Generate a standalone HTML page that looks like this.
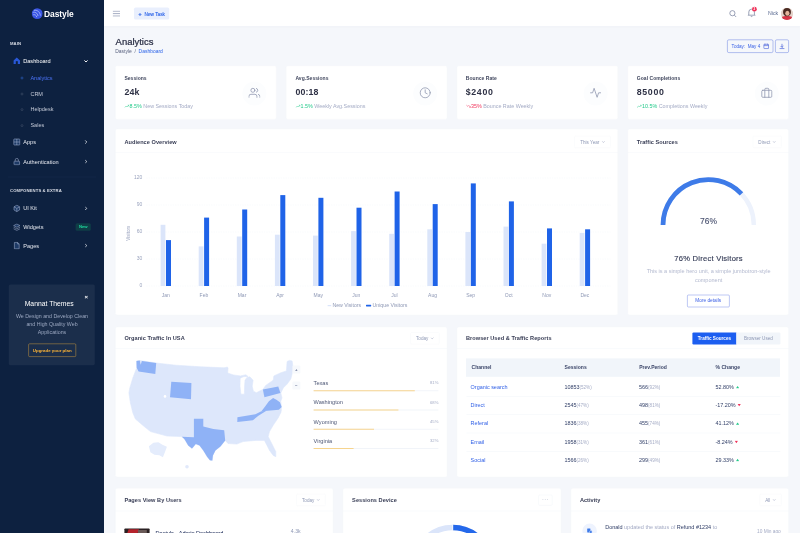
<!DOCTYPE html>
<html lang="en">
<head>
<meta charset="utf-8">
<title>Dastyle - Admin Dashboard</title>
<style>
*{box-sizing:border-box;margin:0;padding:0}
html,body{width:800px;height:533px;overflow:hidden;background:#f5f7fb}
body{font-family:"Liberation Sans",sans-serif;color:#303e67}
#app{position:absolute;left:0;top:0;width:2000px;height:1333px;transform:scale(.4);transform-origin:0 0;background:#f5f7fb;font-size:13px;overflow:hidden}
.abs{position:absolute}
/* sidebar */
#side{position:absolute;left:0;top:0;width:260px;height:1333px;background:#0d2140}
#side .lbl{position:absolute;left:25px;font-size:10.5px;font-weight:700;letter-spacing:.3px;color:#d9dde6;text-transform:uppercase;line-height:14px}
#side .it{position:absolute;left:58px;font-size:14px;color:#e4e7ee;line-height:18px;font-weight:400}
#side .sub{position:absolute;left:76px;font-size:13.8px;color:#c3c9d6;line-height:18px}
#side .sub.act{color:#4a72f5}
#side .dot{position:absolute;left:52px;width:6px;height:6px;border-radius:50%;border:1px solid #55627a}
#side .ic{position:absolute;left:32px;width:20px;height:20px}
#side .chev{position:absolute;left:210px;width:10px;height:10px}
/* topbar */
#top{position:absolute;left:260px;top:0;width:1740px;height:66px;background:#fff;border-bottom:1px solid #eef2f7;box-shadow:0 1px 3px rgba(40,60,100,.04)}
.card{position:absolute;background:#fff;border:1px solid #f6f8fb;border-radius:5px}
.ch{position:absolute;left:-1px;top:-1px;right:-1px;height:56px;border-bottom:1px solid #f1f4f9}
.ct{position:absolute;left:23px;top:19px;font-size:14px;font-weight:700;color:#383d55;line-height:18px;letter-spacing:.1px}
.dd{position:absolute;top:18px;font-size:11.5px;color:#8e98b5;line-height:20px;white-space:nowrap}
.mut{color:#a4abc5}
</style>
</head>
<body>
<div id="app">

<!-- ============ SIDEBAR ============ -->
<div id="side">
  <svg class="abs" style="left:79px;top:19px" width="28" height="30" viewBox="0 0 28 30">
    <circle cx="14" cy="15" r="13.5" fill="#3a55e4"/>
    <path d="M3 12c6-2 12 2 13 9M4 18c4-1 8 1 9 6M6 7c8-2 15 4 16 13" stroke="#cfdcff" stroke-width="1.6" fill="none"/>
  </svg>
  <div class="abs" style="left:110px;top:19px;font-size:24px;font-weight:700;color:#fff;line-height:30px;letter-spacing:-.2px;transform:scaleX(.88);transform-origin:0 50%">Dastyle</div>

  <div class="lbl" style="top:101.5px">Main</div>

  <svg class="ic" style="top:142px" viewBox="0 0 20 20"><path d="M2 9l8-7 8 7v9H2z" fill="#2b5ce0" opacity=".95"/><rect x="7.5" y="11" width="5" height="7" fill="#0d2140"/></svg>
  <div class="it" style="top:143px;color:#fff">Dashboard</div>
  <svg class="chev" style="top:148px" viewBox="0 0 10 10"><path d="M1 3l4 4 4-4" stroke="#fff" stroke-width="2.4" fill="none"/></svg>

  <div class="dot" style="top:192px;border-color:#3b7bff"></div><div class="sub act" style="top:186px">Analytics</div>
  <div class="dot" style="top:232px"></div><div class="sub" style="top:226px">CRM</div>
  <div class="dot" style="top:271px"></div><div class="sub" style="top:265px">Helpdesk</div>
  <div class="dot" style="top:310.5px"></div><div class="sub" style="top:304.5px">Sales</div>

  <svg class="ic" style="top:345px" viewBox="0 0 20 20"><rect x="2.5" y="2.5" width="15" height="15" rx="1.5" fill="#1d3a66" stroke="#a9b6d4" stroke-width="1.3"/><path d="M10 2.5v15M2.5 10h15" stroke="#a9b6d4" stroke-width="1.3"/></svg>
  <div class="it" style="top:346px">Apps</div>
  <svg class="chev" style="top:350px" viewBox="0 0 10 10"><path d="M3 1l4 4-4 4" stroke="#e4e8ef" stroke-width="2" fill="none"/></svg>

  <svg class="ic" style="top:394px" viewBox="0 0 20 20"><rect x="3" y="9" width="14" height="9" rx="1.5" fill="#1d3a66" stroke="#a9b6d4" stroke-width="1.3"/><path d="M6 9V6a4 4 0 018 0v3" stroke="#a9b6d4" stroke-width="1.3" fill="none"/></svg>
  <div class="it" style="top:395px">Authentication</div>
  <svg class="chev" style="top:399px" viewBox="0 0 10 10"><path d="M3 1l4 4-4 4" stroke="#e4e8ef" stroke-width="2" fill="none"/></svg>

  <div class="abs" style="left:20px;top:442px;width:220px;height:1px;background:#1c3151"></div>

  <div class="lbl" style="top:468px">Components &amp; Extra</div>

  <svg class="ic" style="top:511px" viewBox="0 0 20 20"><path d="M10 2l7 4v8l-7 4-7-4V6z" fill="#1d3a66" stroke="#a9b6d4" stroke-width="1.3"/><path d="M3 6l7 4 7-4M10 10v8" stroke="#a9b6d4" stroke-width="1.3" fill="none"/></svg>
  <div class="it" style="top:512px">UI Kit</div>
  <svg class="chev" style="top:516px" viewBox="0 0 10 10"><path d="M3 1l4 4-4 4" stroke="#e4e8ef" stroke-width="2" fill="none"/></svg>

  <svg class="ic" style="top:558px" viewBox="0 0 20 20"><path d="M10 2l8 4-8 4-8-4z" fill="#1d3a66" stroke="#a9b6d4" stroke-width="1.3"/><path d="M2 10l8 4 8-4M2 14l8 4 8-4" stroke="#a9b6d4" stroke-width="1.3" fill="none"/></svg>
  <div class="it" style="top:559px">Widgets</div>
  <div class="abs" style="left:189px;top:558px;width:38px;height:19px;border-radius:4px;background:#0f3d46;color:#1fd9a0;font-size:10.5px;font-weight:700;line-height:19px;text-align:center">New</div>

  <svg class="ic" style="top:604px" viewBox="0 0 20 20"><path d="M4 2h8l4 4v12H4z" fill="#1d3a66" stroke="#a9b6d4" stroke-width="1.3"/><path d="M12 2v4h4" stroke="#a9b6d4" stroke-width="1.3" fill="none"/></svg>
  <div class="it" style="top:605px">Pages</div>
  <svg class="chev" style="top:609px" viewBox="0 0 10 10"><path d="M3 1l4 4-4 4" stroke="#e4e8ef" stroke-width="2" fill="none"/></svg>

  <div class="abs" style="left:22px;top:711px;width:215px;height:202px;background:#1b2e4b;border-radius:4px"></div>
  <div class="abs" style="left:211px;top:734px;font-size:15px;font-weight:700;color:#fff;line-height:16px">×</div>
  <div class="abs" style="left:18px;top:749px;width:210px;text-align:center;font-size:17px;color:#fff;line-height:22px">Mannat Themes</div>
  <div class="abs" style="left:33px;top:780px;width:194px;text-align:center;font-size:13.2px;color:#9ba7c0;line-height:20.5px">We Design and Develop Clean and High Quality Web Applications</div>
  <div class="abs" style="left:71px;top:859px;width:119px;height:33px;border:1px solid #f3b13a;border-radius:3px;color:#ffb536;font-size:11px;font-weight:700;line-height:31px;text-align:center">Upgrade your plan</div>
</div>

<!-- ============ TOPBAR ============ -->
<div id="top">
  <svg class="abs" style="left:21px;top:26px" width="20" height="16" viewBox="0 0 20 16"><path d="M1 2h18M1 8h18M1 14h18" stroke="#7c87a6" stroke-width="1.7" fill="none"/></svg>
  <div class="abs" style="left:75px;top:19px;width:88px;height:30px;border-radius:4px;background:#e9effd;color:#2a62e8;font-size:11.8px;font-weight:400;-webkit-text-stroke:.3px #2a62e8;line-height:30px;text-align:center;white-space:nowrap"><span style="font-size:15px;font-weight:700;position:relative;top:1px">+</span>&nbsp; New Task</div>

  <svg class="abs" style="left:1562px;top:24px" width="20" height="20" viewBox="0 0 20 20"><circle cx="9" cy="9" r="6.5" stroke="#6d7897" stroke-width="1.7" fill="none"/><path d="M14 14l4.5 4.5" stroke="#6d7897" stroke-width="1.7"/></svg>
  <svg class="abs" style="left:1608px;top:19px" width="22" height="24" viewBox="0 0 22 24"><path d="M4 17V11a7 7 0 0114 0v6l2 2H2z" stroke="#6d7897" stroke-width="1.7" fill="none" stroke-linejoin="round"/><path d="M9 21.5a2.2 2.2 0 004 0" stroke="#6d7897" stroke-width="1.7" fill="none"/></svg>
  <div class="abs" style="left:1620px;top:17px;width:12px;height:12px;border-radius:50%;background:#f0335a;color:#fff;font-size:7.5px;font-weight:700;line-height:12px;text-align:center">2</div>
  <div class="abs" style="left:1660px;top:25px;font-size:13px;color:#5a6a91;line-height:16px">Nick</div>
  <svg class="abs" style="left:1692px;top:19px" width="31" height="31" viewBox="0 0 33 33">
    <defs><clipPath id="av"><circle cx="16.5" cy="16.5" r="16.5"/></clipPath></defs>
    <g clip-path="url(#av)"><rect width="33" height="33" fill="#e4d3cb"/><path d="M0 33V26q16-8 33 0v7z" fill="#d63445"/><ellipse cx="16.5" cy="12" rx="10.5" ry="11" fill="#4a2a22"/><ellipse cx="17.5" cy="15" rx="5.6" ry="6.8" fill="#e3b59c"/></g>
  </svg>
</div>

<!-- ============ PAGE TITLE ============ -->
<div class="abs" style="left:289px;top:90px;font-size:23.6px;font-weight:400;color:#2a2e45;line-height:28px;-webkit-text-stroke:.6px #2a2e45">Analytics</div>
<div class="abs" style="left:288px;top:119.5px;font-size:12.4px;color:#5a6280;line-height:18px">Dastyle &nbsp;/&nbsp; <span style="color:#2a62e8">Dashboard</span></div>
<div class="abs" style="left:1818px;top:99px;width:115px;height:33px;border:1.3px solid #4a66dc;border-radius:4px;color:#3a62e6;font-size:11.5px;line-height:30px;padding-left:10px;white-space:nowrap">Today: &nbsp;May 4</div>
<svg class="abs" style="left:1908px;top:108px" width="15" height="15" viewBox="0 0 15 15"><rect x="1.5" y="2.5" width="12" height="11" rx="1.5" stroke="#3a55d8" stroke-width="1.5" fill="none"/><path d="M1.5 6h12M4.5 1v3M10.5 1v3" stroke="#3a55d8" stroke-width="1.5"/></svg>
<div class="abs" style="left:1938px;top:99px;width:34px;height:33px;border:1.3px solid #4a66dc;border-radius:4px"></div>
<svg class="abs" style="left:1947px;top:108px" width="16" height="16" viewBox="0 0 16 16"><path d="M8 1.5v9M4.5 7L8 10.5 11.500 7M2 13.500h12" stroke="#3a55d8" stroke-width="1.6" fill="none"/></svg>

<style>
.sl{font-size:12.500px;font-weight:700;color:#42485f;line-height:18px;letter-spacing:.1px}
.sv{font-size:22px;font-weight:700;color:#2e3145;line-height:28px;letter-spacing:.3px}
.sd{font-size:13.400px;color:#a4abc5;line-height:18px;white-space:nowrap}
.th{font-size:12.600px;font-weight:700;color:#3c4669;line-height:18px}
.td{font-size:13.600px;color:#303e67;line-height:18px;white-space:nowrap}
.td small{font-size:11.400px;color:#a4abc5}
</style><div class="card" style="left:288px;top:163.5px;width:403px;height:135px"><div class="abs" style="left:2px;top:0.0px;width:397.5px;height:0"><div class="abs sl" style="left:20px;top:22px">Sessions</div><div class="abs sv" style="left:20px;top:52px;letter-spacing:0.3px">24k</div><div class="abs sd" style="left:20px;top:92px"><span style="color:#22c98a"><svg width="12" height="9" viewBox="0 0 12 9" style="margin-right:1px"><path d="M0.500 8l4-4 2.500 2.500 4.500-5M8 1.500h3.500v3.500" stroke="#22c98a" stroke-width="1.200" fill="none"/></svg>8.5%</span> New Sessions Today</div><div class="abs" style="right:23px;top:39px;width:60px;height:60px;border-radius:50%;background:#fcfdfe"></div><svg class="abs" style="right:38px;top:52px" width="30" height="30" viewBox="0 0 24 24" fill="none" stroke="#9198b0" stroke-width="1.600" stroke-linecap="round" stroke-linejoin="round"><circle cx="9" cy="7" r="4"/><path d="M1 21v-2a4 4 0 014-4h8a4 4 0 014 4v2"/><path d="M16 3.200a4 4 0 010 7.600M23 21v-2a4 4 0 00-3-3.850"/></svg></div></div>
<div class="card" style="left:715px;top:163.5px;width:403px;height:135px"><div class="abs" style="left:2.5px;top:0.0px;width:397.5px;height:0"><div class="abs sl" style="left:20px;top:22px">Avg.Sessions</div><div class="abs sv" style="left:20px;top:52px;letter-spacing:0.3px">00:18</div><div class="abs sd" style="left:20px;top:92px"><span style="color:#22c98a"><svg width="12" height="9" viewBox="0 0 12 9" style="margin-right:1px"><path d="M0.500 8l4-4 2.500 2.500 4.500-5M8 1.500h3.500v3.500" stroke="#22c98a" stroke-width="1.200" fill="none"/></svg>1.5%</span> Weekly Avg.Sessions</div><div class="abs" style="right:23px;top:39px;width:60px;height:60px;border-radius:50%;background:#fcfdfe"></div><svg class="abs" style="right:38px;top:52px" width="30" height="30" viewBox="0 0 24 24" fill="none" stroke="#9198b0" stroke-width="1.600" stroke-linecap="round" stroke-linejoin="round"><circle cx="12" cy="12" r="10"/><path d="M12 6v6l4 2"/></svg></div></div>
<div class="card" style="left:1142px;top:163.5px;width:403px;height:135px"><div class="abs" style="left:1.5px;top:0.0px;width:397.5px;height:0"><div class="abs sl" style="left:20px;top:22px">Bounce Rate</div><div class="abs sv" style="left:20px;top:52px;letter-spacing:1.6px">$2400</div><div class="abs sd" style="left:20px;top:92px"><span style="color:#f0335a"><svg width="12" height="9" viewBox="0 0 12 9" style="margin-right:1px"><path d="M0.500 1l4 4 2.500-2.500 4.500 5M8 7.500h3.500v-3.500" stroke="#f0335a" stroke-width="1.200" fill="none"/></svg>35%</span> Bounce Rate Weekly</div><div class="abs" style="right:23px;top:39px;width:60px;height:60px;border-radius:50%;background:#fcfdfe"></div><svg class="abs" style="right:38px;top:52px" width="30" height="30" viewBox="0 0 24 24" fill="none" stroke="#9198b0" stroke-width="1.600" stroke-linecap="round" stroke-linejoin="round"><path d="M22 12h-4l-3 9L9 3l-3 9H2"/></svg></div></div>
<div class="card" style="left:1569px;top:163.5px;width:403px;height:135px"><div class="abs" style="left:2px;top:0.0px;width:397.5px;height:0"><div class="abs sl" style="left:20px;top:22px">Goal Completions</div><div class="abs sv" style="left:20px;top:52px;letter-spacing:1.6px">85000</div><div class="abs sd" style="left:20px;top:92px"><span style="color:#22c98a"><svg width="12" height="9" viewBox="0 0 12 9" style="margin-right:1px"><path d="M0.500 8l4-4 2.500 2.500 4.500-5M8 1.500h3.500v3.500" stroke="#22c98a" stroke-width="1.200" fill="none"/></svg>10.5%</span> Completions Weekly</div><div class="abs" style="right:23px;top:39px;width:60px;height:60px;border-radius:50%;background:#fcfdfe"></div><svg class="abs" style="right:38px;top:52px" width="30" height="30" viewBox="0 0 24 24" fill="none" stroke="#9198b0" stroke-width="1.600" stroke-linecap="round" stroke-linejoin="round"><rect x="2" y="7" width="20" height="14" rx="2"/><path d="M16 21V5a2 2 0 00-2-2h-4a2 2 0 00-2 2v16"/></svg></div></div>
<div class="card" style="left:288px;top:322px;width:1257px;height:466px"><div class="ch" style="height:59px"><div class="ct" style="top:22.5px">Audience Overview</div></div><div class="abs" style="left:2px;top:4px;width:1252.5px;height:0"><div class="dd" style="right:17px;top:13px;height:30px;line-height:28px;padding:0 13px;border:1px solid #f5f7fa;border-radius:3px">This Year <svg width="9" height="9" viewBox="0 0 10 10" style="margin-left:2px"><path d="M1.500 3.500l3.500 3.500 3.500-3.500" stroke="#8e98b5" stroke-width="1.300" fill="none"/></svg></div><svg class="abs" style="left:0;top:0" width="1250" height="462" font-family="Liberation Sans, sans-serif"><line x1="75" x2="1235" y1="388.0" y2="388.0" stroke="#eef2f8" stroke-width="1" stroke-dasharray="3 3"/><text x="65" y="389.5" text-anchor="end" font-size="12.5" fill="#9aa3be">0</text><line x1="75" x2="1235" y1="320.5" y2="320.5" stroke="#eef2f8" stroke-width="1" stroke-dasharray="3 3"/><text x="65" y="322.0" text-anchor="end" font-size="12.5" fill="#9aa3be">30</text><line x1="75" x2="1235" y1="253.0" y2="253.0" stroke="#eef2f8" stroke-width="1" stroke-dasharray="3 3"/><text x="65" y="254.5" text-anchor="end" font-size="12.5" fill="#9aa3be">60</text><line x1="75" x2="1235" y1="185.5" y2="185.5" stroke="#eef2f8" stroke-width="1" stroke-dasharray="3 3"/><text x="65" y="187.0" text-anchor="end" font-size="12.5" fill="#9aa3be">90</text><line x1="75" x2="1235" y1="118.0" y2="118.0" stroke="#eef2f8" stroke-width="1" stroke-dasharray="3 3"/><text x="65" y="119.5" text-anchor="end" font-size="12.5" fill="#9aa3be">120</text><rect x="110.5" y="235.0" width="12" height="153.0" fill="#dbe5fa"/><rect x="124.0" y="273.25" width="12.5" height="114.75" fill="#1f63e8"/> <text x="123.5" y="415.1" text-anchor="middle" font-size="12.5" fill="#8e98b5">Jan</text><rect x="205.75" y="289.0" width="12" height="99.0" fill="#dbe5fa"/><rect x="219.25" y="217.0" width="12.5" height="171.0" fill="#1f63e8"/> <text x="218.75" y="415.1" text-anchor="middle" font-size="12.5" fill="#8e98b5">Feb</text><rect x="301.0" y="264.25" width="12" height="123.75" fill="#dbe5fa"/><rect x="314.5" y="196.75" width="12.5" height="191.25" fill="#1f63e8"/> <text x="314.0" y="415.1" text-anchor="middle" font-size="12.5" fill="#8e98b5">Mar</text><rect x="396.25" y="259.75" width="12" height="128.25" fill="#dbe5fa"/><rect x="409.75" y="160.75" width="12.5" height="227.25" fill="#1f63e8"/> <text x="409.25" y="415.1" text-anchor="middle" font-size="12.5" fill="#8e98b5">Apr</text><rect x="491.5" y="262.0" width="12" height="126.0" fill="#dbe5fa"/><rect x="505.0" y="167.5" width="12.5" height="220.5" fill="#1f63e8"/> <text x="504.5" y="415.1" text-anchor="middle" font-size="12.5" fill="#8e98b5">May</text><rect x="586.75" y="250.75" width="12" height="137.25" fill="#dbe5fa"/><rect x="600.25" y="192.25" width="12.5" height="195.75" fill="#1f63e8"/> <text x="599.75" y="415.1" text-anchor="middle" font-size="12.5" fill="#8e98b5">Jun</text><rect x="682.0" y="257.5" width="12" height="130.5" fill="#dbe5fa"/><rect x="695.5" y="151.75" width="12.5" height="236.25" fill="#1f63e8"/> <text x="695.0" y="415.1" text-anchor="middle" font-size="12.5" fill="#8e98b5">Jul</text><rect x="777.25" y="246.25" width="12" height="141.75" fill="#dbe5fa"/><rect x="790.75" y="183.25" width="12.5" height="204.75" fill="#1f63e8"/> <text x="790.25" y="415.1" text-anchor="middle" font-size="12.5" fill="#8e98b5">Aug</text><rect x="872.5" y="253.0" width="12" height="135.0" fill="#dbe5fa"/><rect x="886.0" y="131.5" width="12.5" height="256.5" fill="#1f63e8"/> <text x="885.5" y="415.1" text-anchor="middle" font-size="12.5" fill="#8e98b5">Sep</text><rect x="967.75" y="239.5" width="12" height="148.5" fill="#dbe5fa"/><rect x="981.25" y="176.5" width="12.5" height="211.5" fill="#1f63e8"/> <text x="980.75" y="415.1" text-anchor="middle" font-size="12.5" fill="#8e98b5">Oct</text><rect x="1063.0" y="282.25" width="12" height="105.75" fill="#dbe5fa"/><rect x="1076.5" y="244.0" width="12.5" height="144.0" fill="#1f63e8"/> <text x="1076.0" y="415.1" text-anchor="middle" font-size="12.5" fill="#8e98b5">Nov</text><rect x="1158.25" y="255.25" width="12" height="132.75" fill="#dbe5fa"/><rect x="1171.75" y="246.25" width="12.5" height="141.75" fill="#1f63e8"/> <text x="1171.25" y="415.1" text-anchor="middle" font-size="12.5" fill="#8e98b5">Dec</text><text transform="translate(34.5,256) rotate(-90)" text-anchor="middle" font-size="11.5" fill="#9aa3be">Visitors</text><rect x="528" y="435.5" width="9" height="3" fill="#dbe5fa"/><text x="540" y="441.5" font-size="13" fill="#8e98b5">New Visitors</text><rect x="624" y="435" width="13" height="4" rx="1" fill="#1f63e8"/><text x="640.5" y="441.5" font-size="13" fill="#8e98b5">Unique Visitors</text></svg></div></div>
<div class="card" style="left:1569px;top:322px;width:403px;height:466px"><div class="ch" style="height:59px"><div class="ct" style="top:22.5px">Traffic Sources</div></div><div class="abs" style="left:3.5px;top:4px;width:397.5px;height:0"><div class="dd" style="right:17px;top:13px;height:30px;line-height:28px;padding:0 13px;border:1px solid #f5f7fa;border-radius:3px">Direct <svg width="9" height="9" viewBox="0 0 10 10" style="margin-left:2px"><path d="M1.500 3.500l3.500 3.500 3.500-3.500" stroke="#8e98b5" stroke-width="1.300" fill="none"/></svg></div><svg class="abs" style="left:0;top:0" width="396" height="300"><path d="M83.5 235.5 A113.5 113.5 0 0 1 310.5 235.5" stroke="#edf2fc" stroke-width="11" fill="none"/><path d="M83.5 235.5 A113.5 113.5 0 0 1 279.7 157.8" stroke="#3e7be8" stroke-width="12" fill="none"/></svg><div class="abs" style="left:0;width:396px;top:214.500px;text-align:center;font-size:21px;color:#4a5270;-webkit-text-stroke:.3px #4a5270;line-height:24px;letter-spacing:.3px">76%</div><div class="abs" style="left:0;width:396px;top:309px;text-align:center;font-size:19px;color:#333a55;-webkit-text-stroke:.35px #333a55;line-height:22px;letter-spacing:.6px">76% Direct Visitors</div><div class="abs" style="left:23px;width:350px;top:341px;text-align:center;font-size:13.800px;color:#b3b9cf;line-height:21px">This is a simple hero unit, a simple jumbotron-style component</div><div class="abs" style="left:144px;top:410px;width:106px;height:31px;border:1.200px solid #5a74e2;border-radius:3px;color:#3a5ee6;font-size:11.800px;line-height:29px;text-align:center">More details</div></div></div>
<div class="card" style="left:288px;top:817px;width:830px;height:376px"><div class="ch" style="height:55px"><div class="ct" style="top:19.5px">Organic Traffic In USA</div></div><div class="abs" style="left:2px;top:0px;width:825px;height:0"><div class="dd" style="right:17px;top:13px;height:30px;line-height:28px;padding:0 13px;border:1px solid #f5f7fa;border-radius:3px">Today <svg width="9" height="9" viewBox="0 0 10 10" style="margin-left:2px"><path d="M1.500 3.500l3.500 3.500 3.500-3.500" stroke="#8e98b5" stroke-width="1.300" fill="none"/></svg></div><svg class="abs" style="left:0;top:0;transform-origin:0 0;transform:scale(2.5)" width="330" height="152" viewBox="0 0 330 152"><path d="M20.10 33.70 L23.50 33.30 L39.80 35.80 L59.30 38.00 L84.40 39.60 L107.80 40.60 L111.00 39.80 L111.60 41.00 L111.30 45.90 L117.00 47.70 L124.00 48.70 L129.50 47.60 L131.50 49.20 L127.00 49.50 L123.80 51.00 L123.60 59.00 L124.50 67.00 L128.00 67.00 L128.20 59.00 L128.60 53.00 L130.50 50.20 L133.50 49.60 L136.70 53.00 L135.80 59.00 L137.00 64.00 L140.00 65.50 L146.50 62.20 L149.30 58.20 L156.80 53.00 L157.50 48.70 L164.40 45.60 L170.00 43.70 L170.70 34.30 L173.00 33.20 L175.70 33.70 L176.90 41.80 L174.40 51.90 L170.70 56.90 L166.90 60.70 L164.40 65.70 L165.60 70.70 L164.40 74.00 L165.00 79.50 L165.00 83.00 L164.40 85.50 L161.90 90.50 L156.80 98.10 L153.10 104.40 L151.80 109.40 L155.60 116.90 L159.40 124.50 L159.40 129.50 L156.80 128.20 L153.10 123.20 L150.60 118.20 L148.00 113.20 L139.30 113.20 L126.70 114.40 L120.40 116.90 L111.60 116.30 L108.80 113.20 L104.00 119.40 L99.00 123.20 L96.50 128.20 L95.90 133.30 L93.50 133.00 L90.70 129.50 L86.90 123.20 L83.10 118.20 L79.40 116.90 L75.60 121.30 L71.80 118.20 L68.00 111.90 L65.50 109.60 L64.30 109.40 L50.50 108.80 L34.10 104.40 L27.80 99.30 L19.00 91.80 L16.50 85.80 L14.00 75.70 L12.50 65.70 L13.40 60.70 L16.50 50.60 L20.30 40.60Z" fill="#dde7fb" stroke="#dde7fb" stroke-width=".6" stroke-linejoin="round"/><path d="M20.10 33.70 L23.30 33.40 L24.30 37.50 L25.50 33.80 L39.80 35.80 L38.90 46.80 L22.20 44.30 L20.30 40.60Z" fill="#8fb2f6" /><path d="M54.90 54.60 L75.00 55.90 L74.60 72.00 L53.60 70.10Z" fill="#8fb2f6" /><path d="M77.50 91.50 L86.90 91.50 L86.90 99.30 L96.90 101.80 L107.80 103.00 L108.80 113.20 L104.00 119.40 L99.00 123.20 L96.50 128.20 L95.90 133.30 L93.50 133.00 L90.70 129.50 L86.90 123.20 L83.10 118.20 L79.40 116.90 L75.60 121.30 L71.80 118.20 L68.00 111.90 L65.50 109.60 L77.50 110.00Z" fill="#8fb2f6" /><path d="M146.50 62.20 L161.90 59.40 L164.00 65.70 L148.00 70.10Z" fill="#8fb2f6" /><path d="M145.00 84.00 L148.50 79.50 L152.50 74.00 L156.70 70.90 L160.00 72.50 L163.50 75.00 L165.30 79.80 L162.50 82.60 L154.00 83.30Z" fill="#8fb2f6" /><path d="M121.00 90.10 L139.00 87.00 L145.00 84.00 L150.00 83.50 L142.00 88.50 L136.50 93.00 L120.90 94.90Z" fill="#8fb2f6" /><path d="M32.50 119.00 L37.00 115.50 L42.00 115.00 L46.00 117.50 L50.50 119.50 L48.50 125.00 L46.50 130.00 L43.00 128.00 L38.00 127.50 L34.00 125.00Z" fill="#e4ecfc" /><circle cx="70.6" cy="139.5" r="1.8" fill="#e1e9fb"/><circle cx="48.599999999999994" cy="69.19999999999999" r="1.300" fill="#fff"/></svg><div class="abs" style="left:440.0px;top:95.5px;width:20px;height:20px;border-radius:3px;background:#f7f9fc;color:#6b7697;font-size:11px;font-weight:700;line-height:20px;text-align:center">+</div><div class="abs" style="left:440.0px;top:135.5px;width:20px;height:20px;border-radius:3px;background:#f7f9fc;color:#6b7697;font-size:11px;font-weight:700;line-height:20px;text-align:center">−</div><div class="abs" style="left:493px;top:130.75px;font-size:14px;color:#4d5775;line-height:18px">Texas</div><div class="abs" style="right:20px;top:129.75px;font-size:10.5px;color:#a4abc5;line-height:18px">81%</div><div class="abs" style="left:493px;top:157.75px;width:312px;height:2.500px;background:#eef2f8"><div style="width:81%;height:2.500px;background:#f8cc74"></div></div><div class="abs" style="left:493px;top:178.75px;font-size:14px;color:#4d5775;line-height:18px">Washington</div><div class="abs" style="right:20px;top:177.75px;font-size:10.5px;color:#a4abc5;line-height:18px">68%</div><div class="abs" style="left:493px;top:205.75px;width:312px;height:2.500px;background:#eef2f8"><div style="width:68%;height:2.500px;background:#f8cc74"></div></div><div class="abs" style="left:493px;top:226.75px;font-size:14px;color:#4d5775;line-height:18px">Wyoming</div><div class="abs" style="right:20px;top:225.75px;font-size:10.5px;color:#a4abc5;line-height:18px">45%</div><div class="abs" style="left:493px;top:253.75px;width:312px;height:2.500px;background:#eef2f8"><div style="width:48.5%;height:2.500px;background:#f8cc74"></div></div><div class="abs" style="left:493px;top:274.75px;font-size:14px;color:#4d5775;line-height:18px">Virginia</div><div class="abs" style="right:20px;top:273.75px;font-size:10.5px;color:#a4abc5;line-height:18px">32%</div><div class="abs" style="left:493px;top:301.75px;width:312px;height:2.500px;background:#eef2f8"><div style="width:32%;height:2.500px;background:#f8cc74"></div></div></div></div>
<div class="card" style="left:1142px;top:817px;width:830px;height:376px"><div class="ch" style="height:55px"><div class="ct" style="top:19.5px">Browser Used &amp; Traffic Reports</div></div><div class="abs" style="left:3px;top:0px;width:825px;height:0"><div class="abs" style="left:585px;top:12.5px;width:110px;height:30px;background:#1c5ef0;border-radius:3px 0 0 3px;color:#fff;font-size:11.500px;font-weight:700;line-height:30px;text-align:center">Traffic Sources</div><div class="abs" style="left:695px;top:12.5px;width:110px;height:30px;background:#f1f5fa;border-radius:0 3px 3px 0;color:#8e98b5;font-size:11.500px;line-height:30px;text-align:center">Browser Used</div><div class="abs" style="left:19px;top:78px;width:785px;height:46px;background:#f1f5fa"></div><div class="abs th" style="left:33.0px;top:92px">Channel</div><div class="abs th" style="left:265.5px;top:92px">Sessions</div><div class="abs th" style="left:452.0px;top:92px">Prev.Period</div><div class="abs th" style="left:643.0px;top:92px">% Change</div><div class="abs td" style="left:30.5px;top:140.75px;color:#2f5fe6">Organic search</div><div class="abs td" style="left:265.0px;top:140.75px">10853<small>(52%)</small></div><div class="abs td" style="left:451.5px;top:140.75px">566<small>(92%)</small></div><div class="abs td" style="left:642.5px;top:140.75px">52.80%<svg width="10" height="8" viewBox="0 0 8 7" style="margin-left:4px"><path d="M4 1l3.500 5h-7z" fill="#22c98a"/></svg></div><div class="abs" style="left:20px;top:172.75px;width:785px;height:1px;background:#eef2f8"></div><div class="abs td" style="left:30.5px;top:186.35px;color:#2f5fe6">Direct</div><div class="abs td" style="left:265.0px;top:186.35px">2545<small>(47%)</small></div><div class="abs td" style="left:451.5px;top:186.35px">498<small>(81%)</small></div><div class="abs td" style="left:642.5px;top:186.35px">-17.20%<svg width="10" height="8" viewBox="0 0 8 7" style="margin-left:4px"><path d="M4 6l3.500-5h-7z" fill="#f0335a"/></svg></div><div class="abs" style="left:20px;top:218.35px;width:785px;height:1px;background:#eef2f8"></div><div class="abs td" style="left:30.5px;top:231.95px;color:#2f5fe6">Referal</div><div class="abs td" style="left:265.0px;top:231.95px">1836<small>(38%)</small></div><div class="abs td" style="left:451.5px;top:231.95px">455<small>(74%)</small></div><div class="abs td" style="left:642.5px;top:231.95px">41.12%<svg width="10" height="8" viewBox="0 0 8 7" style="margin-left:4px"><path d="M4 1l3.500 5h-7z" fill="#22c98a"/></svg></div><div class="abs" style="left:20px;top:263.95px;width:785px;height:1px;background:#eef2f8"></div><div class="abs td" style="left:30.5px;top:277.55px;color:#2f5fe6">Email</div><div class="abs td" style="left:265.0px;top:277.55px">1958<small>(31%)</small></div><div class="abs td" style="left:451.5px;top:277.55px">361<small>(61%)</small></div><div class="abs td" style="left:642.5px;top:277.55px">-8.24%<svg width="10" height="8" viewBox="0 0 8 7" style="margin-left:4px"><path d="M4 6l3.500-5h-7z" fill="#f0335a"/></svg></div><div class="abs" style="left:20px;top:309.55px;width:785px;height:1px;background:#eef2f8"></div><div class="abs td" style="left:30.5px;top:323.15px;color:#2f5fe6">Social</div><div class="abs td" style="left:265.0px;top:323.15px">1566<small>(26%)</small></div><div class="abs td" style="left:451.5px;top:323.15px">299<small>(49%)</small></div><div class="abs td" style="left:642.5px;top:323.15px">29.33%<svg width="10" height="8" viewBox="0 0 8 7" style="margin-left:4px"><path d="M4 1l3.500 5h-7z" fill="#22c98a"/></svg></div></div></div>
<div class="card" style="left:288px;top:1220px;width:545.3px;height:200px"><div class="ch" style="height:58px"><div class="ct" style="top:20.0px">Pages View By Users</div></div><div class="abs" style="left:2px;top:1px;width:540px;height:0"><div class="dd" style="right:17px;top:13px;height:30px;line-height:28px;padding:0 13px;border:1px solid #f5f7fa;border-radius:3px">Today <svg width="9" height="9" viewBox="0 0 10 10" style="margin-left:2px"><path d="M1.500 3.500l3.500 3.500 3.500-3.500" stroke="#8e98b5" stroke-width="1.300" fill="none"/></svg></div><div class="abs" style="left:20px;top:99px;width:63px;height:40px;background:#2a2022;border-radius:2px;overflow:hidden"><div style="position:absolute;left:8px;top:2px;width:26px;height:14px;background:#b5232c;transform:skewX(-20deg)"></div><div style="position:absolute;left:34px;top:4px;width:22px;height:8px;background:#6a5a58"></div></div><div class="abs" style="left:98px;top:100.5px;font-size:13.900px;color:#303e67;line-height:18px;-webkit-text-stroke:.2px #303e67">Dastyle - Admin Dashboard</div><div class="abs" style="left:436px;top:97px;font-size:13px;color:#8e98b5;line-height:18px">4.3k</div></div></div>
<div class="card" style="left:857.3px;top:1220px;width:545.4px;height:200px"><div class="ch" style="height:58px"><div class="ct" style="top:20.0px">Sessions Device</div></div><div class="abs" style="left:2.7000000000000455px;top:1px;width:540px;height:0"><svg class="abs" style="left:0;top:0" width="538" height="200"><circle cx="270.75" cy="194.5999999999999" r="98" stroke="#dbe5fa" stroke-width="13.5" fill="none"/><path d="M270.8 96.6 A98 98 0 0 1 319.8 279.5" stroke="#2468ea" stroke-width="13.5" fill="none"/><rect x="269.55" y="88.59999999999991" width="2.400" height="16" fill="#fff"/></svg><div class="abs" style="left:485px;top:15px;width:35px;height:27px;border:1px solid #eef2f8;border-radius:3px;color:#8e98b5;font-size:14px;line-height:18px;text-align:center;letter-spacing:1px">···</div></div></div>
<div class="card" style="left:1426.7px;top:1220px;width:545.3px;height:200px"><div class="ch" style="height:58px"><div class="ct" style="top:20.0px">Activity</div></div><div class="abs" style="left:3.2999999999999545px;top:1px;width:540px;height:0"><div class="dd" style="right:17px;top:13px;height:30px;line-height:28px;padding:0 13px;border:1px solid #f5f7fa;border-radius:3px">All <svg width="9" height="9" viewBox="0 0 10 10" style="margin-left:2px"><path d="M1.500 3.500l3.500 3.500 3.500-3.500" stroke="#8e98b5" stroke-width="1.300" fill="none"/></svg></div><div class="abs" style="left:25px;top:87px;width:36px;height:36px;border-radius:50%;background:#eef3fe"></div><svg class="abs" style="left:35px;top:97px" width="16" height="16" viewBox="0 0 16 16"><rect x="2" y="2" width="8" height="10" rx="1" fill="#3e7be8"/><circle cx="11" cy="11" r="3.500" fill="#3e7be8" stroke="#eef3fe" stroke-width="1"/></svg><div class="abs" style="left:82px;top:87px;font-size:13.700px;color:#a4abc5;line-height:18px;white-space:nowrap"><span style="color:#303e67">Donald</span> updated the status of <span style="color:#303e67">Refund #1234</span> to</div><div class="abs" style="right:19px;top:98px;font-size:12px;color:#a4abc5;line-height:18px">10 Min ago</div></div></div>

</div>
</body>
</html>
